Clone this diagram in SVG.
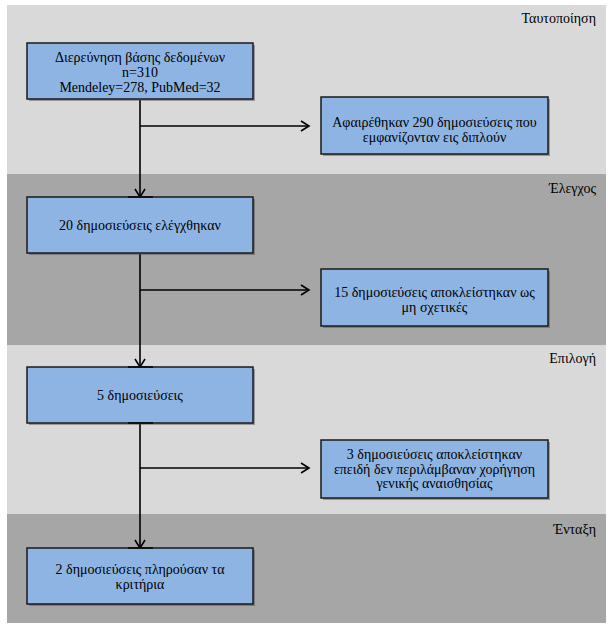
<svg xmlns="http://www.w3.org/2000/svg" width="610" height="631" viewBox="0 0 610 631">
<defs>
<marker id="arr" markerWidth="12" markerHeight="12" refX="10" refY="6" orient="auto" markerUnits="userSpaceOnUse">
<path d="M2,1 L10,6 L2,11" fill="none" stroke="#000" stroke-width="1.6"/>
</marker>
</defs>
<style>
.band-l{fill:#d9d9d9}
.band-d{fill:#a6a6a6}
.box{fill:#8eb4e3;stroke:#1a1a1a;stroke-width:1.5}
.shadow{fill:#4a4a4a;opacity:0.45}
.t{font-family:"Liberation Serif","Times New Roman",serif;font-size:14px;fill:#000;text-anchor:middle}
.lbl{font-family:"Liberation Serif","Times New Roman",serif;font-size:14px;fill:#000;text-anchor:end}
.c{fill:none;stroke:#000;stroke-width:1.6}
.tick{stroke:#111;stroke-width:2}
</style>
<rect width="610" height="631" fill="#fff"/>
<g id="bands">
<rect class="band-l" x="7" y="5" width="599" height="169"/>
<rect class="band-d" x="7" y="174" width="599" height="171"/>
<rect class="band-l" x="7" y="345" width="599" height="169"/>
<rect class="band-d" x="7" y="514" width="599" height="109"/>
<text class="lbl" x="596" y="23">Ταυτοποίηση</text>
<text class="lbl" x="596" y="193">Έλεγχος</text>
<text class="lbl" x="596" y="363">Επιλογή</text>
<text class="lbl" x="596" y="534">Ένταξη</text>
</g>
<g id="connectors">
<line class="c" x1="140" y1="100" x2="140" y2="197" marker-end="url(#arr)"/>
<line class="c" x1="140" y1="126" x2="309" y2="126" marker-end="url(#arr)"/>
<line class="c" x1="140" y1="254" x2="140" y2="367" marker-end="url(#arr)"/>
<line class="c" x1="140" y1="290" x2="309" y2="290" marker-end="url(#arr)"/>
<line class="c" x1="140" y1="424" x2="140" y2="548" marker-end="url(#arr)"/>
<line class="c" x1="140" y1="468" x2="309" y2="468" marker-end="url(#arr)"/>
</g>
<g id="n1">
<rect class="shadow" x="29" y="45" width="226" height="56"/>
<rect class="box" x="27" y="43" width="226" height="56"/>
<text class="t" x="140" y="62">Διερεύνηση βάσης δεδομένων</text>
<text class="t" x="140" y="77">n=310</text>
<text class="t" x="140" y="92">Mendeley=278, PubMed=32</text>
</g>
<g id="n2">
<rect class="shadow" x="323" y="99" width="227" height="57"/>
<rect class="box" x="321" y="97" width="227" height="57"/>
<text class="t" x="434.5" y="127">Αφαιρέθηκαν 290 δημοσιεύσεις που</text>
<text class="t" x="434.5" y="142">εμφανίζονταν εις διπλούν</text>
</g>
<g id="n3">
<rect class="shadow" x="29" y="199" width="226" height="56"/>
<rect class="box" x="27" y="197" width="226" height="56"/>
<line class="tick" x1="128" y1="197" x2="153" y2="197"/>
<text class="t" x="140" y="230">20 δημοσιεύσεις ελέγχθηκαν</text>
</g>
<g id="n4">
<rect class="shadow" x="323" y="271" width="227" height="57"/>
<rect class="box" x="321" y="269" width="227" height="57"/>
<text class="t" x="434.5" y="297">15 δημοσιεύσεις αποκλείστηκαν ως</text>
<text class="t" x="434.5" y="312">μη σχετικές</text>
</g>
<g id="n5">
<rect class="shadow" x="29" y="369" width="226" height="56"/>
<rect class="box" x="27" y="367" width="226" height="56"/>
<line class="tick" x1="128" y1="367" x2="153" y2="367"/>
<line class="tick" x1="128" y1="423" x2="153" y2="423"/>
<text class="t" x="140" y="400">5 δημοσιεύσεις</text>
</g>
<g id="n6">
<rect class="shadow" x="323" y="442" width="227" height="58"/>
<rect class="box" x="321" y="440" width="227" height="58"/>
<text class="t" x="434.5" y="459">3 δημοσιεύσεις αποκλείστηκαν</text>
<text class="t" x="434.5" y="474">επειδή δεν περιλάμβαναν χορήγηση</text>
<text class="t" x="434.5" y="488">γενικής αναισθησίας</text>
</g>
<g id="n7">
<rect class="shadow" x="29" y="550" width="226" height="56"/>
<rect class="box" x="27" y="548" width="226" height="56"/>
<line class="tick" x1="128" y1="548" x2="153" y2="548"/>
<text class="t" x="140" y="574">2 δημοσιεύσεις πληρούσαν τα</text>
<text class="t" x="140" y="589">κριτήρια</text>
</g>
</svg>
